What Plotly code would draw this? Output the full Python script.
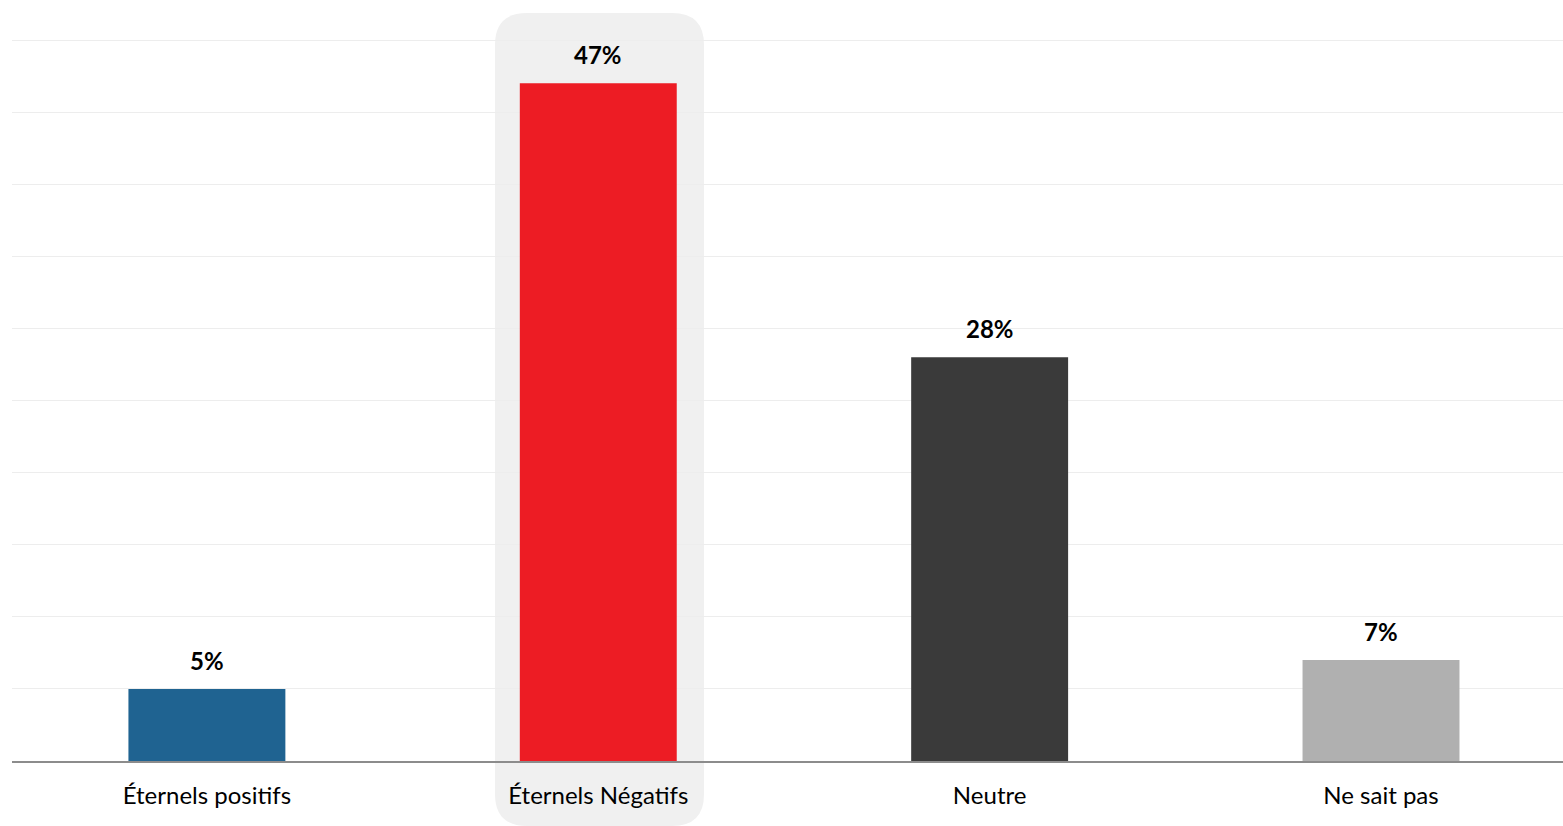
import plotly.graph_objects as go

categories = ["Éternels positifs", "Éternels Négatifs", "Neutre", "Ne sait pas"]
values = [5, 47, 28, 7]
colors = ["#1f6391", "#ed1c24", "#3a3a3a", "#b0b0b0"]
labels = ["5%", "47%", "28%", "7%"]

W, H = 1563, 826
ML, MR, MT, MB = 12, 0, 36, 65
PW = W - ML - MR
PH = H - MT - MB
YMAX = 50.28

def px_x(p):
    return (p - ML) / PW

def px_y(p):
    return (H - MB - p) / PH

FONT = "Lato, Carlito, sans-serif"

fig = go.Figure()
fig.add_trace(go.Bar(
    x=list(range(len(categories))), y=values,
    marker=dict(color=colors, line=dict(width=0)),
    width=0.401, hoverinfo="skip",
))

for i, (v, t) in enumerate(zip(values, labels)):
    fig.add_annotation(x=i, y=v, text="<b>%s</b>" % t, showarrow=False,
                       yanchor="bottom", yshift=12,
                       font=dict(family=FONT, size=24, color="#000000"))

# highlight rounded box behind the second category
x0, x1 = px_x(495), px_x(704)
y0, y1 = px_y(826), px_y(13)
rx, ry = 32 / PW, 32 / PH
path = (f"M {x0+rx},{y1} L {x1-rx},{y1} Q {x1},{y1} {x1},{y1-ry} "
        f"L {x1},{y0+ry} Q {x1},{y0} {x1-rx},{y0} L {x0+rx},{y0} "
        f"Q {x0},{y0} {x0},{y0+ry} L {x0},{y1-ry} Q {x0},{y1} {x0+rx},{y1} Z")
fig.add_shape(type="path", path=path, xref="paper", yref="paper",
              fillcolor="#f0f0f0", line=dict(width=0), layer="below")

fig.update_layout(
    width=W, height=H,
    margin=dict(l=ML, r=MR, t=MT, b=MB),
    paper_bgcolor="white", plot_bgcolor="rgba(0,0,0,0)",
    showlegend=False,
    font=dict(family=FONT, size=24, color="#000000"),
    xaxis=dict(tickmode="array", tickvals=list(range(len(categories))), ticktext=categories,
               range=[-0.498, 3.465], showgrid=False, showline=True,
               linecolor="#8c8c8c", linewidth=2, ticks="", ticklabelstandoff=12,
               tickfont=dict(size=24), fixedrange=True),
    yaxis=dict(range=[0, YMAX], dtick=5, showgrid=True, gridcolor="#ededed", gridwidth=1,
               showticklabels=False, zeroline=False, showline=False, fixedrange=True),
)

fig.write_html("out.html", config={"displayModeBar": False},
               post_script="document.body.style.margin='0';")
